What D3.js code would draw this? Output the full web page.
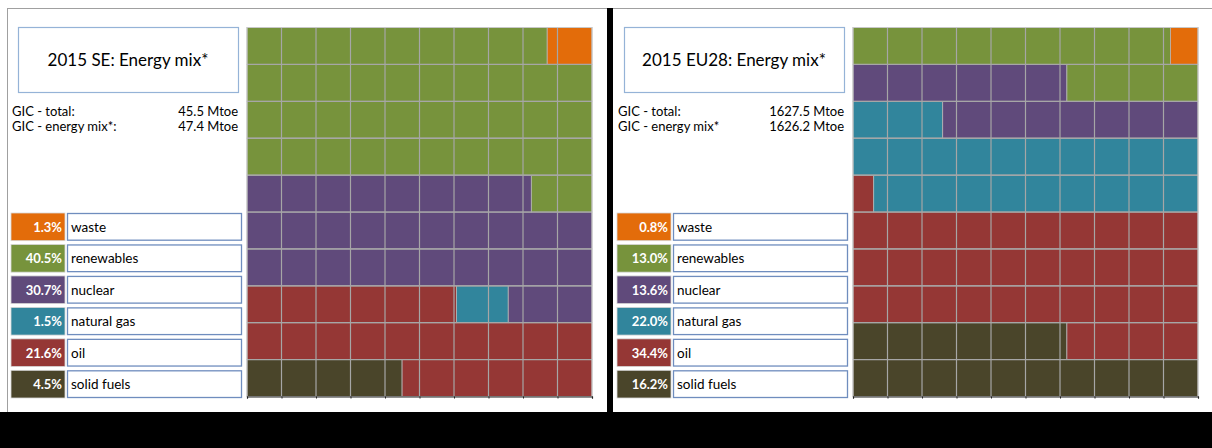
<!DOCTYPE html>
<html>
<head>
<meta charset="utf-8">
<script src="https://cdn.jsdelivr.net/npm/d3@7"></script>
<style>
  body { margin: 0; background: #fff; }
  text { font-family: Lato, "Liberation Sans", sans-serif; }
</style>
</head>
<body>
<script>
// categories in legend order (top to bottom)
var categories = ["waste", "renewables", "nuclear", "natural gas", "oil", "solid fuels"];
var catColors = ["#E36C0A", "#77933C", "#604A7B", "#31859C", "#953735", "#4A452A"];

// shares in % per panel
var seValues = [1.3, 40.5, 30.7, 1.5, 21.6, 4.5];
var euValues = [0.8, 13.0, 13.6, 22.0, 34.4, 16.2];

var panelTitles = ["2015 SE: Energy mix*", "2015 EU28: Energy mix*"];
var gicLabels = [["GIC - total:", "GIC - energy mix*:"], ["GIC - total:", "GIC - energy mix*"]];
var gicValues = [["45.5 Mtoe", "47.4 Mtoe"], ["1627.5 Mtoe", "1626.2 Mtoe"]];

var svg = d3.select("body").append("svg")
    .attr("width", 1212)
    .attr("height", 448);

// frame
svg.append("rect").attr("x", 0).attr("y", 0).attr("width", 1212).attr("height", 448).attr("fill", "#fff");
svg.append("line").attr("x1", 8).attr("x2", 1212).attr("y1", 8.5).attr("y2", 8.5)
    .attr("stroke", "#a0a0a0").attr("stroke-width", 1);
svg.append("line").attr("x1", 7.5).attr("x2", 7.5).attr("y1", 8).attr("y2", 412)
    .attr("stroke", "#a0a0a0").attr("stroke-width", 1);
svg.append("rect").attr("x", 607).attr("y", 8).attr("width", 6).attr("height", 404).attr("fill", "#000");
svg.append("rect").attr("x", 0).attr("y", 412).attr("width", 1212).attr("height", 36).attr("fill", "#000");

function drawPanel(idx, values, ox) {
    var g = svg.append("g").attr("transform", "translate(" + ox + ",0)");

    // title box
    g.append("rect")
        .attr("x", 18.5).attr("y", 27.5)
        .attr("width", 220).attr("height", 65)
        .attr("fill", "#fff")
        .attr("stroke", "#95B3D7")
        .attr("stroke-width", 1.2);
    g.append("text")
        .attr("x", 128).attr("y", 66)
        .attr("text-anchor", "middle")
        .style("font-size", "17px")
        .attr("fill", "#000")
        .text(panelTitles[idx]);

    // GIC lines
    gicLabels[idx].forEach(function (lab, i) {
        g.append("text")
            .attr("x", 12).attr("y", 116 + i * 15)
            .style("font-size", "13px")
            .attr("fill", "#000")
            .text(lab);
        g.append("text")
            .attr("x", 238).attr("y", 116 + i * 15)
            .attr("text-anchor", "end")
            .style("font-size", "13px")
            .attr("fill", "#000")
            .text(gicValues[idx][i]);
    });

    // legend
    var rowY = d3.scaleBand().domain(categories).range([213, 398]).paddingInner(0.12);
    categories.forEach(function (c, i) {
        var y = rowY(c);
        g.append("rect")
            .attr("x", 11).attr("y", y)
            .attr("width", 54).attr("height", rowY.bandwidth())
            .attr("fill", catColors[i])
            .attr("stroke", "#d8d8d8").attr("stroke-width", 0.8);
        g.append("text")
            .attr("x", 62).attr("y", y + rowY.bandwidth() / 2 + 5)
            .attr("text-anchor", "end")
            .style("font-size", "13px")
            .style("font-weight", "bold")
            .attr("fill", "#fff")
            .text(values[i].toFixed(1) + "%");
        g.append("rect")
            .attr("x", 67.5).attr("y", y + 0.5)
            .attr("width", 174).attr("height", rowY.bandwidth() - 1)
            .attr("fill", "#fff")
            .attr("stroke", "#6F8DBE").attr("stroke-width", 1.3);
        g.append("text")
            .attr("x", 71).attr("y", y + rowY.bandwidth() / 2 + 5)
            .style("font-size", "13.5px")
            .attr("fill", "#000")
            .text(c);
    });

    // waffle: rows of 10 units, filled left->right from the bottom row up
    var x = d3.scaleLinear().domain([0, 10]).range([247, 592]);
    var y = d3.scaleBand().domain(d3.range(10)).range([396.5, 27.5]);
    var total = d3.sum(values);
    var order = d3.range(categories.length).reverse(); // solid fuels first
    var segs = [];
    var cum = 0;
    order.forEach(function (ci) {
        var start = cum;
        var end = cum + values[ci] / total * 100;
        cum = end;
        for (var r = 0; r < 10; r++) {
            var a = Math.max(start, r * 10), b = Math.min(end, r * 10 + 10);
            if (b > a) segs.push({ row: r, a: a - r * 10, b: b - r * 10, c: ci });
        }
    });
    var plot = g.append("g");
    plot.selectAll("rect.seg").data(segs).enter().append("rect")
        .attr("class", "seg")
        .attr("x", function (d) { return x(d.a); })
        .attr("y", function (d) { return y(d.row); })
        .attr("width", function (d) { return x(d.b) - x(d.a); })
        .attr("height", y.bandwidth())
        .attr("fill", function (d) { return catColors[d.c]; })
        .attr("stroke", "#b4b4b4")
        .attr("stroke-width", 0.8);

    // grid lines
    plot.selectAll("line.v").data(d3.range(1, 10)).enter().append("line")
        .attr("x1", function (d) { return x(d); }).attr("x2", function (d) { return x(d); })
        .attr("y1", 27.5).attr("y2", 396.5)
        .attr("stroke", "#a6a6a6").attr("stroke-width", 1.2);
    plot.selectAll("line.h").data(d3.range(1, 10)).enter().append("line")
        .attr("x1", 247).attr("x2", 592)
        .attr("y1", function (d) { return y(d) + y.bandwidth(); })
        .attr("y2", function (d) { return y(d) + y.bandwidth(); })
        .attr("stroke", "#a6a6a6").attr("stroke-width", 1.2);
    plot.append("rect")
        .attr("x", 247).attr("y", 27.5)
        .attr("width", 345).attr("height", 369)
        .attr("fill", "none")
        .attr("stroke", "#c8c8c8").attr("stroke-width", 1);

    // bottom axis
    var ax = g.append("g")
        .attr("transform", "translate(0,396.5)")
        .call(d3.axisBottom(x).ticks(10).tickSize(2).tickFormat(""));
    ax.select(".domain").attr("stroke", "#222").attr("stroke-width", 1.2);
    ax.selectAll(".tick line").attr("stroke", "#222");
}

drawPanel(0, seValues, 0);
drawPanel(1, euValues, 606);
</script>
</body>
</html>
